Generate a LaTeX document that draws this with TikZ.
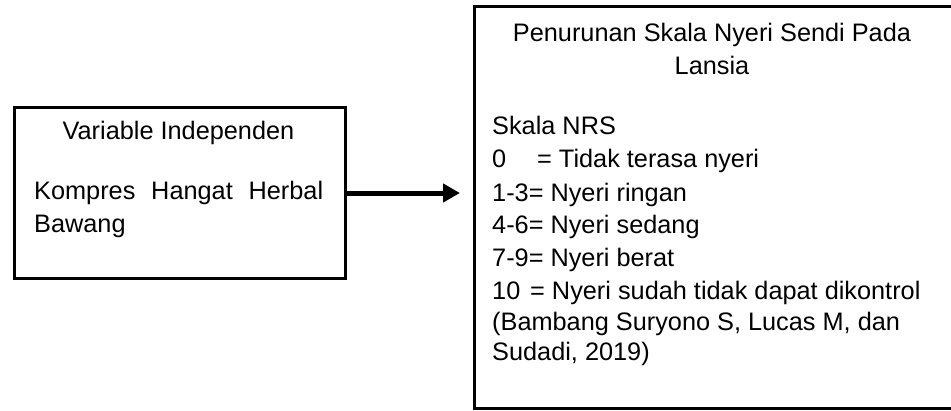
\documentclass[tikz,border=0pt]{standalone}
\usepackage{fontspec}
\setmainfont{Liberation Sans}
\usetikzlibrary{arrows.meta}
\begin{document}
\begin{tikzpicture}[x=1pt,y=-1pt,
  box/.style={draw=black, line width=3pt, inner sep=0pt, anchor=north west},
  txt/.style={anchor=base west, inner sep=0pt, font=\fontsize{25.3}{30}\selectfont},
  ctxt/.style={anchor=base, inner sep=0pt, font=\fontsize{25.3}{30}\selectfont},
  link/.style={line width=5pt, -{Triangle[length=17pt,width=18pt]}}]
\useasboundingbox (0,0) rectangle (951,410);
% boxes
\node[box, minimum width=331pt, minimum height=171pt] (L) at (13,106) {};
\node[box, minimum width=485pt, minimum height=402pt] (R) at (473,5) {};
% left texts
\node[ctxt] (l1) at (178.5,139) {Variable Independen};
\node[txt] (l2) at (34,199) {\makebox[289pt][s]{Kompres Hangat Herbal}};
\node[txt] (l3) at (34,232) {Bawang};
% right texts
\node[ctxt] (r1) at (712,41) {Penurunan Skala Nyeri Sendi Pada};
\node[ctxt] (r2) at (712,74) {Lansia};
\node[txt] (r3) at (492,134) {Skala NRS};
\node[txt] (r4) at (492,167) {\makebox[45pt][l]{0}= Tidak terasa nyeri};
\node[txt] (r5) at (492,201) {1-3= Nyeri ringan};
\node[txt] (r6) at (492,233) {4-6= Nyeri sedang};
\node[txt] (r7) at (492,266) {7-9= Nyeri berat};
\node[txt] (r8) at (492,299) {\makebox[38pt][l]{10}= Nyeri sudah tidak dapat dikontrol};
\node[txt] (r9) at (492,330) {(Bambang Suryono S, Lucas M, dan};
\node[txt] (r10) at (492,360) {Sudadi, 2019)};
% arrow
\draw[link, shorten >=13pt] (L.east) -- (L.east -| R.west);
\end{tikzpicture}
\end{document}
